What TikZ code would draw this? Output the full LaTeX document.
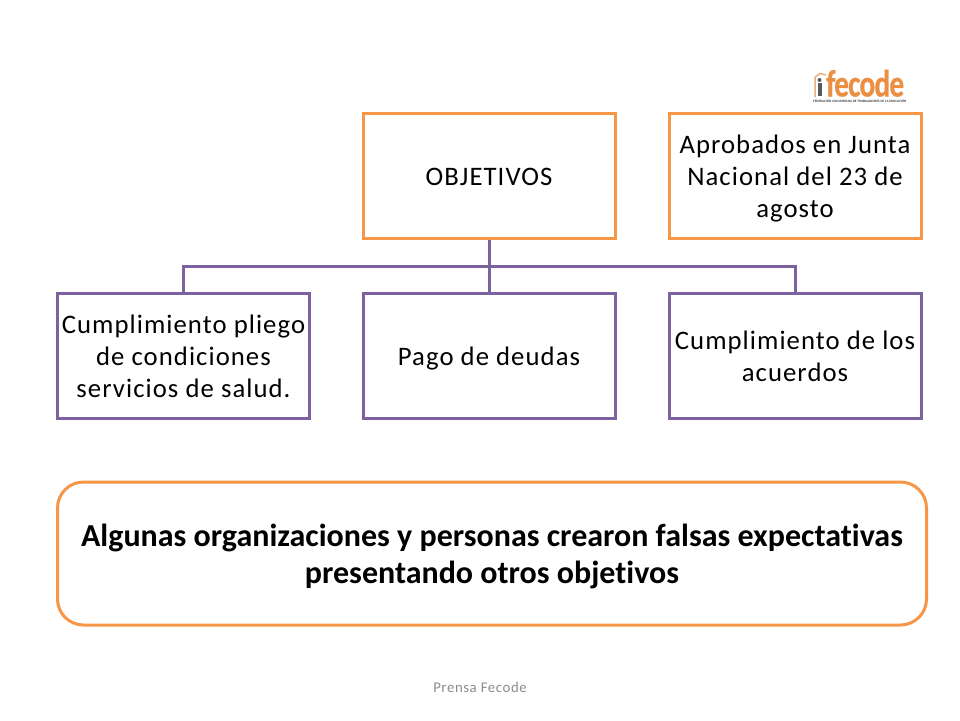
\documentclass[tikz,border=0pt]{standalone}
\usepackage{fontspec}
\setmainfont{Carlito}
\newfontfamily\spaced[LetterSpace=4]{Carlito}
\newfontfamily\notefont[Ligatures=NoCommon]{Carlito Bold}
\newfontfamily\logofont[FakeStretch=0.77,FakeBold=0.6,LetterSpace=-2]{Carlito Bold}
\definecolor{orangeline}{HTML}{F79646}
\definecolor{purpleline}{HTML}{7D62A0}
\newcommand\tstrut{\rule{0pt}{28.4pt}}
\newcommand\nstrut{\rule{0pt}{34pt}}
\tikzset{
  x=1pt,y=-1pt,
  boxbase/.style={draw,line width=3pt,minimum width=252pt,minimum height=125pt,inner sep=0pt,align=center,text=black,font=\spaced\fontsize{26.7}{32}\selectfont},
  orangebox/.style={boxbase,draw=orangeline},
  purplebox/.style={boxbase,draw=purpleline},
  tree/.style={draw=purpleline,line width=3pt},
}
\begin{document}
\begin{tikzpicture}
\useasboundingbox (0,0) rectangle (960,720);
\fill[white] (0,0) rectangle (960,720);
\node[orangebox] (obj) at (489,176) {\tstrut OBJETIVOS\strut};
\node[orangebox] (apr) at (795,176) {\tstrut Aprobados en Junta\\Nacional del 23 de\\agosto\strut};
\node[purplebox] (c1) at (183.5,356) {\tstrut Cumplimiento pliego\\de condiciones\\servicios de salud.\strut};
\node[purplebox] (c2) at (489,356) {\tstrut Pago de deudas\strut};
\node[purplebox] (c3) at (795,356) {\tstrut Cumplimiento de los\\acuerdos\strut};
\coordinate (bus) at (489,266);
\draw[tree] (obj.south) -- (bus);
\draw[tree] (bus) -- (c2.north);
\draw[tree] (c1.north) |- (bus);
\draw[tree] (c3.north) |- (bus);
\node[draw=orangeline,line width=3pt,rounded corners=26pt,minimum width=869pt,minimum height=143pt,inner sep=0pt,align=center,font=\notefont\fontsize{32}{37}\selectfont] (note) at (492,553.5) {\nstrut Algunas organizaciones y personas crearon falsas expectativas\\presentando otros objetivos\strut};
\node[font=\spaced\fontsize{14.8}{18}\selectfont,text=black!45,inner sep=0pt] (foot) at (480,687) {Prensa Fecode};
% logo
\node[font=\logofont\fontsize{38}{38}\selectfont,text=orangeline!95!black,inner sep=0pt,anchor=base west] (logo) at (826,96.5) {fecode};
\node[font=\bfseries\fontsize{3.4}{4}\selectfont,text=black!75,inner sep=0pt,anchor=west] (logosub) at (813,101) {FEDERACIÓN COLOMBIANA DE TRABAJADORES DE LA EDUCACIÓN};
\draw[orangeline!60!brown!70,line width=1.5pt] (815,97) -- (815,77) -- (820,73.5) -- (826,75);
\fill[black!65] (819.5,80) circle (2pt);
\fill[black!65] (818,83) rectangle (821.5,96);
\end{tikzpicture}
\end{document}
